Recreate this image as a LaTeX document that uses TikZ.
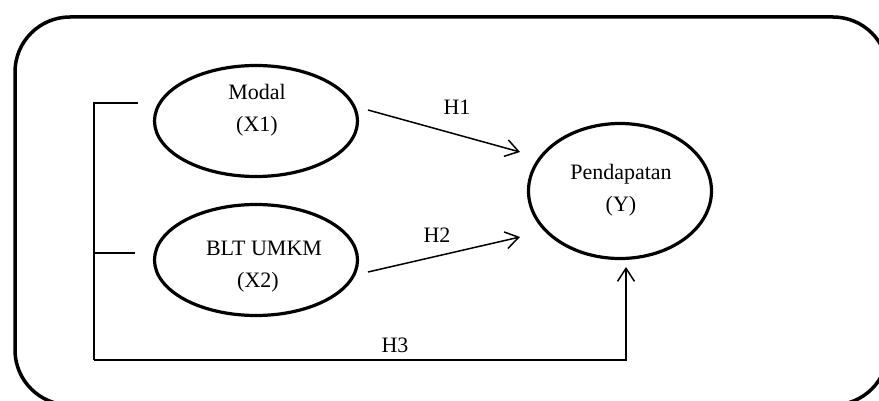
\documentclass[tikz,border=0pt]{standalone}
\usepackage{fontspec}
\setmainfont{Liberation Serif}
\usetikzlibrary{arrows.meta,shapes.geometric}
\begin{document}
\begin{tikzpicture}[x=1pt,y=-1pt,
  var/.style={ellipse, draw, line width=3.2pt, inner sep=0pt},
  txt/.style={align=center, inner sep=0pt, font=\fontsize{22}{32}\selectfont},
  thin/.style={line width=1.5pt},
  arr/.style={thin, -{Straight Barb[length=13pt,width=17pt,line width=1.5pt]}},
  lbl/.style={font=\fontsize{22}{26}\selectfont, inner sep=0pt}]
\useasboundingbox (0,0) rectangle (879,401);
\draw[line width=3.5pt, rounded corners=55pt] (15,17) rectangle (888,405);
\node[var, minimum width=203pt, minimum height=111pt] (x1) at (256,121) {};
\node[var, minimum width=203pt, minimum height=111pt] (x2) at (256,260) {};
\node[var, minimum width=183pt, minimum height=135pt] (y) at (620,191) {};
\node[txt] (t1) at (257,110) {Modal\\(X1)};
\node[txt] (t2) at (258,267) {\hspace*{12pt}BLT UMKM\\(X2)};
\node[txt] (t3) at (621,190) {Pendapatan\\(Y)};
\coordinate (s1) at (368,110);
\coordinate (e1) at (520,152);
\coordinate (s2) at (368,272);
\coordinate (e2) at (520,237);
\coordinate (b1) at (138,103);
\coordinate (b2) at (135,253);
\coordinate (bl) at (94,360);
\coordinate (br) at (626,360);
\coordinate (e3) at (626,267);
\draw[arr] (s1) -- (e1);
\draw[arr] (s2) -- (e2);
\draw[thin] (b1) -| (bl);
\draw[thin] (b2) -- (bl |- b2);
\draw[arr] (bl) -- (br) -- (e3);
\node[lbl] (h1) at (457,107) {H1};
\node[lbl] (h2) at (437,235) {H2};
\node[lbl] (h3) at (395,345) {H3};
\end{tikzpicture}
\end{document}
